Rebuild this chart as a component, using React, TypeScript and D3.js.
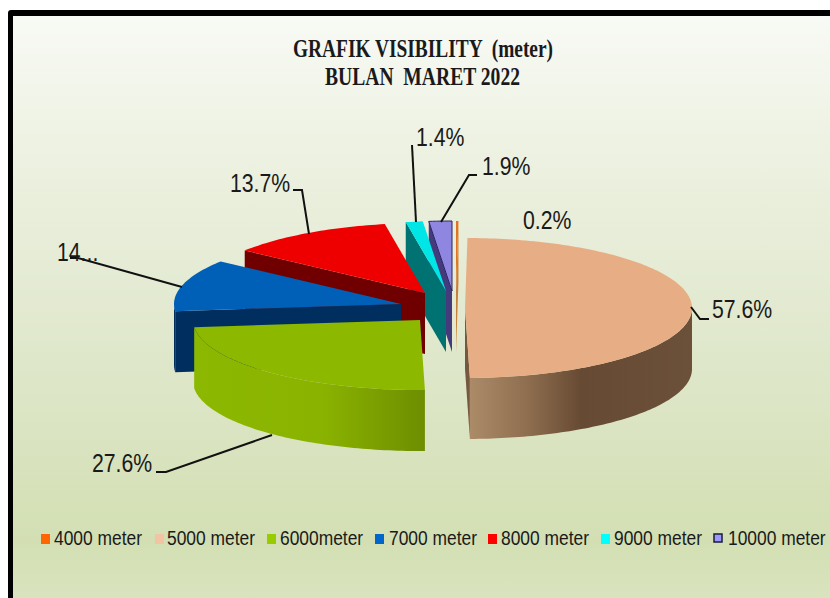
import React from "react";
import * as d3 from "d3";

const categories = ["4000 meter", "5000 meter", "6000meter", "7000 meter", "8000 meter", "9000 meter", "10000 meter"];
const values = [0.2, 57.6, 27.6, 14, 13.7, 1.4, 1.9];
const valueLabels = ["0.2%", "57.6%", "27.6%", "14...", "13.7%", "1.4%", "1.9%"];
const titleLines = ["GRAFIK VISIBILITY  (meter)", "BULAN  MARET 2022"];

const topColors = ["#e2741f", "#e7ae85", "#8cb800", "#0060b8", "#ee0000", "#00e6e6", "#8f86e2"];
const sideColors = ["#c9803a", "#76573f", "#7a9c00", "#002f5f", "#700000", "#007272", "#443a7c"];
const legendColors = ["#ff6600", "#f2c4a4", "#99cc00", "#0066cc", "#ff0000", "#00ffff", "#9999ff"];

// layout
const W = 830, H = 598;
const Rx = 227, Ry = 70, DEPTH = 61;
const centers: [number, number][] = [[456, 291], [465, 308], [420, 320], [401, 304], [425, 293], [446, 291], [452, 291]];
const drawOrder = [0, 6, 5, 4, 3, 2, 1];
const legendSwatchX = [41, 155, 267, 375, 488, 601, 714];
const legendTextX = [54, 167, 280, 389, 501, 614, 728];
const labelPos: [number, number][] = [[523, 229], [712, 318], [92, 472], [57, 261], [230, 192], [416, 146], [482, 175]];
const leaders: [number, number][][] = [
  [],
  [[691, 307], [700, 319], [709, 319]],
  [[156, 472], [166, 472], [272, 435]],
  [[70, 258], [78, 258], [182, 287]],
  [[293, 190], [302, 190], [309, 234]],
  [[412, 145], [416, 222]],
  [[477, 175], [469, 175], [441, 222]],
];

const TAU = Math.PI * 2;
const pie = d3.pie<number>().sort(null).value((d) => d)(values);
const line = d3.line<[number, number]>();

function pt(i: number, a: number, r = 1, dz = 0): [number, number] {
  const [cx, cy] = centers[i];
  return [cx + Rx * r * Math.sin(a), cy - Ry * r * Math.cos(a) + dz];
}
function arcPts(i: number, a0: number, a1: number, dz = 0): [number, number][] {
  const n = Math.max(2, Math.ceil(Math.abs(a1 - a0) / 0.02));
  return d3.range(n + 1).map((k) => pt(i, a0 + ((a1 - a0) * k) / n, 1, dz));
}
function topPath(i: number) {
  const s = pie[i];
  return line([pt(i, 0, 0), ...arcPts(i, s.startAngle, s.endAngle)])! + "Z";
}
function outerWall(i: number) {
  const s = pie[i];
  const a0 = Math.max(s.startAngle, TAU / 4);
  const a1 = Math.min(s.endAngle, (TAU * 3) / 4);
  if (a1 <= a0) return null;
  return line([...arcPts(i, a0, a1), ...arcPts(i, a1, a0, DEPTH)])! + "Z";
}
function cutWall(i: number, a: number) {
  return line([pt(i, 0, 0), pt(i, a), pt(i, a, 1, DEPTH), pt(i, 0, 0, DEPTH)])! + "Z";
}
function cutWalls(i: number) {
  const s = pie[i];
  const out: string[] = [];
  if (s.startAngle > TAU / 2) out.push(cutWall(i, s.startAngle));
  if (s.endAngle < TAU / 2) out.push(cutWall(i, s.endAngle));
  return out;
}
const wallFill = (i: number) => (i === 1 ? "url(#wallTan)" : i === 2 ? "url(#wallGreen)" : sideColors[i]);

export default function App() {
  const sans = "'Liberation Sans', Arial, sans-serif";
  return (
    <svg width={W} height={H} viewBox={`0 0 ${W} ${H}`} style={{ position: "absolute", left: 0, top: 0, background: "#fff" }}>
      <defs>
        <linearGradient id="bg" x1="0" y1="0" x2="0" y2="1">
          <stop offset="0" stopColor="#f8faf5" />
          <stop offset="0.2" stopColor="#eef2e3" />
          <stop offset="0.55" stopColor="#dfe7cb" />
          <stop offset="0.85" stopColor="#d3dfb3" />
          <stop offset="1" stopColor="#dde6c5" />
        </linearGradient>
        <linearGradient id="wallTan" gradientUnits="userSpaceOnUse" x1="471" y1="0" x2="692" y2="0">
          <stop offset="0" stopColor="#ab8a68" />
          <stop offset="0.25" stopColor="#8f6f50" />
          <stop offset="0.5" stopColor="#674a33" />
          <stop offset="1" stopColor="#6b503a" />
        </linearGradient>
        <linearGradient id="wallGreen" gradientUnits="userSpaceOnUse" x1="193" y1="0" x2="427" y2="0">
          <stop offset="0" stopColor="#8cb800" />
          <stop offset="0.55" stopColor="#8ab300" />
          <stop offset="1" stopColor="#6d8d00" />
        </linearGradient>
      </defs>

      <rect x={8} y={10} width={W + 20} height={H + 20} rx={3} fill="#000" />
      <rect x={13} y={16} width={W + 20} height={H + 20} fill="url(#bg)" />

      {titleLines.map((t, i) => (
        <text
          key={t}
          x={i === 0 ? 293 : 325}
          y={i === 0 ? 57 : 85}
          textLength={i === 0 ? 260 : 195}
          lengthAdjust="spacingAndGlyphs"
          fontFamily="'Liberation Serif', serif"
          fontWeight="bold"
          fontSize={26}
          fill="#1a1a1a"
          style={{ whiteSpace: "pre" }}
        >
          {t}
        </text>
      ))}

      {drawOrder.map((i) => {
        const o = outerWall(i);
        return (
          <g key={categories[i]}>
            {cutWalls(i).map((d, k) => (
              <path key={k} d={d} fill={sideColors[i]} />
            ))}
            {o && <path d={o} fill={wallFill(i)} />}
            <path
              d={topPath(i)}
              fill={topColors[i]}
              stroke={i === 6 ? "#2a2560" : "none"}
              strokeWidth={i === 6 ? 1 : 0}
            />
          </g>
        );
      })}

      {leaders.map((l, i) =>
        l.length ? (
          <path key={i} d={line(l)!} fill="none" stroke="#111" strokeWidth={2} />
        ) : null
      )}

      {valueLabels.map((t, i) => (
        <text
          key={i}
          transform={`translate(${labelPos[i][0]},${labelPos[i][1]}) scale(0.85,1)`}
          fontFamily={sans}
          fontSize={25}
          fill="#1a1a1a"
        >
          {t}
        </text>
      ))}

      {categories.map((c, i) => (
        <g key={c}>
          <rect
            x={legendSwatchX[i]}
            y={534}
            width={i === 6 ? 8 : 9}
            height={i === 6 ? 8 : 10}
            fill={legendColors[i]}
            stroke={i === 6 ? "#1a1a3a" : "none"}
            strokeWidth={i === 6 ? 1.5 : 0}
          />
          <text
            transform={`translate(${legendTextX[i]},545) scale(0.87,1)`}
            fontFamily={sans}
            fontSize={20}
            fill="#1a1a1a"
          >
            {c}
          </text>
        </g>
      ))}
    </svg>
  );
}
